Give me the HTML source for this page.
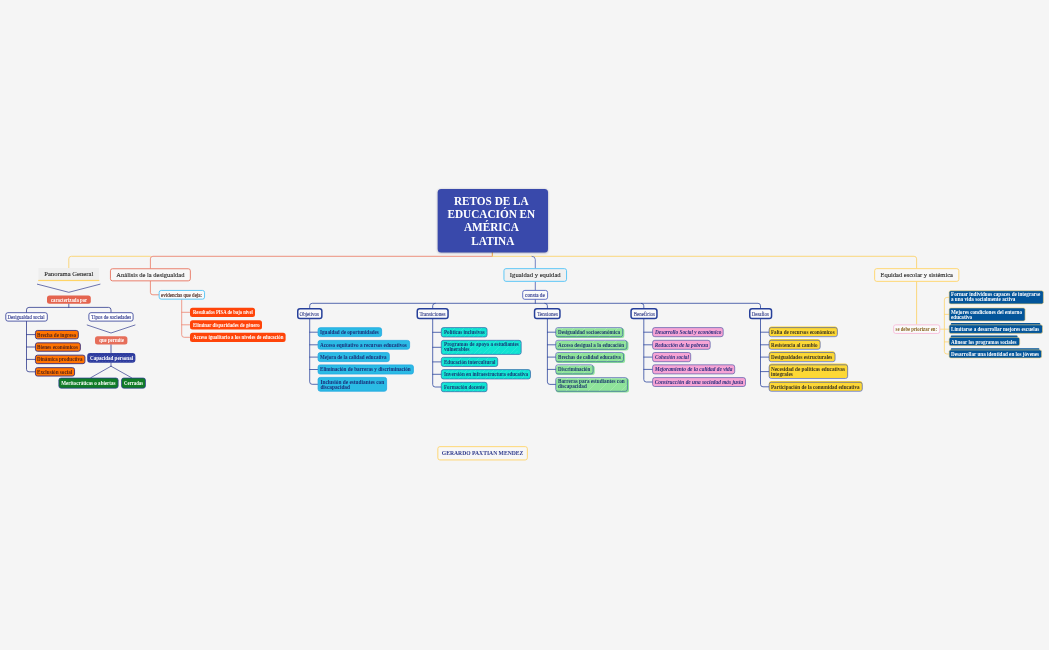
<!DOCTYPE html>
<html lang="es"><head><meta charset="utf-8"><title>Retos de la educación en América Latina</title>
<style>
html,body{margin:0;padding:0;}
body{width:1049px;height:650px;background:#f5f5f5;position:relative;overflow:hidden;font-family:"Liberation Serif",serif;}
.n{position:absolute;box-sizing:border-box;white-space:nowrap;display:flex;flex-direction:column;justify-content:center;}
.n span{display:block;align-self:flex-start;}
.n.c span{align-self:center;}
svg{position:absolute;left:0;top:0;}
</style></head><body>
<svg width="1049" height="650" viewBox="0 0 1049 650">
<defs><filter id="sh" x="-10%" y="-10%" width="120%" height="130%"><feGaussianBlur stdDeviation="0.9"/></filter><pattern id="h1" width="9" height="9" patternUnits="userSpaceOnUse"><path d="M-1 10 L10 -1 M-1 5.5 L5.5 -1" stroke="#fff" stroke-opacity=".22" stroke-width=".5"/></pattern><pattern id="h2" width="11" height="11" patternUnits="userSpaceOnUse"><path d="M-1 12 L12 -1" stroke="#fff" stroke-opacity=".3" stroke-width=".5"/></pattern><pattern id="h3" width="3" height="3" patternUnits="userSpaceOnUse"><path d="M0 2.2 L1.1 1.1 M1.8 3 L3 1.8" stroke="#fff" stroke-opacity=".28" stroke-width=".45"/></pattern></defs>
<path d="M492.3 252 V256.3" stroke="#e6a23c" stroke-width="1" fill="none" stroke-linecap="round" stroke-linejoin="round" />
<path d="M492.3 256.3 H152.9 Q150.4 256.3 150.4 258.8 V268.3" stroke="#ec8672" stroke-width="0.9" fill="none" stroke-linecap="round" stroke-linejoin="round" />
<path d="M150.4 256.3 H71.3 Q68.8 256.3 68.8 258.8 V268" stroke="#fcd470" stroke-width="0.9" fill="none" stroke-linecap="round" stroke-linejoin="round" />
<path d="M492.3 256.3 H914.1 Q916.6 256.3 916.6 258.8 V268.2" stroke="#fcd470" stroke-width="0.9" fill="none" stroke-linecap="round" stroke-linejoin="round" />
<path d="M532 256.3 Q535.3 256.3 535.3 259.5 V268.2" stroke="#5467b6" stroke-width="0.8" fill="none" stroke-linecap="round" stroke-linejoin="round" />
<path d="M535.3 281.8 V290" stroke="#4a5cb0" stroke-width="0.8" fill="none" stroke-linecap="round" stroke-linejoin="round" />
<path d="M535.3 299.7 V303.3" stroke="#2c449c" stroke-width="0.8" fill="none" stroke-linecap="round" stroke-linejoin="round" />
<path d="M37.4 284.2 L68.8 292.3 L100 284.2" stroke="#303b8e" stroke-width="0.7" fill="none" stroke-linecap="round" stroke-linejoin="round" />
<path d="M68.8 303.8 V307.4" stroke="#303b8e" stroke-width="0.8" fill="none" stroke-linecap="round" stroke-linejoin="round" />
<path d="M26.5 312.3 V309.9 Q26.5 307.4 29 307.4 H108.5 Q111 307.4 111 309.9 V312.3" stroke="#303b8e" stroke-width="0.8" fill="none" stroke-linecap="round" stroke-linejoin="round" />
<path d="M87.2 325 L111 333 L135 325" stroke="#303b8e" stroke-width="0.7" fill="none" stroke-linecap="round" stroke-linejoin="round" />
<path d="M111 344.6 V353" stroke="#303b8e" stroke-width="0.8" fill="none" stroke-linecap="round" stroke-linejoin="round" />
<path d="M111 362.8 V366.2 M111 366.2 L90.8 377.7 M111 366.2 L131.5 377.7" stroke="#303b8e" stroke-width="0.7" fill="none" stroke-linecap="round" stroke-linejoin="round" />
<path d="M26.5 321.5 V369.3 Q26.5 371.8 29 371.8 H35" stroke="#303b8e" stroke-width="0.8" fill="none" stroke-linecap="round" stroke-linejoin="round" />
<path d="M26.5 334.6 H35" stroke="#303b8e" stroke-width="0.8" fill="none" stroke-linecap="round" stroke-linejoin="round" />
<path d="M26.5 347 H35" stroke="#303b8e" stroke-width="0.8" fill="none" stroke-linecap="round" stroke-linejoin="round" />
<path d="M26.5 359.4 H35" stroke="#303b8e" stroke-width="0.8" fill="none" stroke-linecap="round" stroke-linejoin="round" />
<path d="M150.4 281.3 V292.3 Q150.4 294.8 152.9 294.8 H158.7" stroke="#ec8672" stroke-width="0.9" fill="none" stroke-linecap="round" stroke-linejoin="round" />
<path d="M181.7 299.6 V334.8 Q181.7 337.3 184.2 337.3 H190" stroke="#ec8672" stroke-width="0.8" fill="none" stroke-linecap="round" stroke-linejoin="round" />
<path d="M181.7 312.3 H190" stroke="#ec8672" stroke-width="0.8" fill="none" stroke-linecap="round" stroke-linejoin="round" />
<path d="M181.7 324.8 H190" stroke="#ec8672" stroke-width="0.8" fill="none" stroke-linecap="round" stroke-linejoin="round" />
<path d="M309.7 308 V305.8 Q309.7 303.3 312.2 303.3 H758 Q760.5 303.3 760.5 305.8 V308" stroke="#2f479e" stroke-width="0.8" fill="none" stroke-linecap="round" stroke-linejoin="round" />
<path d="M544.9 303.3 Q547.4 303.3 547.4 305.8 V308" stroke="#2f479e" stroke-width="0.8" fill="none" stroke-linecap="round" stroke-linejoin="round" />
<path d="M641.3 303.3 Q643.8 303.3 643.8 305.8 V308" stroke="#2f479e" stroke-width="0.8" fill="none" stroke-linecap="round" stroke-linejoin="round" />
<path d="M435.2 303.3 Q432.7 303.3 432.7 305.8 V308" stroke="#2f479e" stroke-width="0.8" fill="none" stroke-linecap="round" stroke-linejoin="round" />
<path d="M309.7 319.2 V381.8 Q309.7 384.3 312.2 384.3 H317.7" stroke="#2f479e" stroke-width="0.8" fill="none" stroke-linecap="round" stroke-linejoin="round" />
<path d="M309.7 332.2 H317.7" stroke="#2f479e" stroke-width="0.8" fill="none" stroke-linecap="round" stroke-linejoin="round" />
<path d="M309.7 344.8 H317.7" stroke="#2f479e" stroke-width="0.8" fill="none" stroke-linecap="round" stroke-linejoin="round" />
<path d="M309.7 357.1 H317.7" stroke="#2f479e" stroke-width="0.8" fill="none" stroke-linecap="round" stroke-linejoin="round" />
<path d="M309.7 369.5 H317.7" stroke="#2f479e" stroke-width="0.8" fill="none" stroke-linecap="round" stroke-linejoin="round" />
<path d="M432.7 319.2 V384.5 Q432.7 387 435.2 387 H441" stroke="#2f479e" stroke-width="0.8" fill="none" stroke-linecap="round" stroke-linejoin="round" />
<path d="M432.7 332.3 H441" stroke="#2f479e" stroke-width="0.8" fill="none" stroke-linecap="round" stroke-linejoin="round" />
<path d="M432.7 347.3 H441" stroke="#2f479e" stroke-width="0.8" fill="none" stroke-linecap="round" stroke-linejoin="round" />
<path d="M432.7 361.9 H441" stroke="#2f479e" stroke-width="0.8" fill="none" stroke-linecap="round" stroke-linejoin="round" />
<path d="M432.7 374.3 H441" stroke="#2f479e" stroke-width="0.8" fill="none" stroke-linecap="round" stroke-linejoin="round" />
<path d="M547.4 319.2 V381.9 Q547.4 384.4 549.9 384.4 H555.4" stroke="#2f479e" stroke-width="0.8" fill="none" stroke-linecap="round" stroke-linejoin="round" />
<path d="M547.4 332.2 H555.4" stroke="#2f479e" stroke-width="0.8" fill="none" stroke-linecap="round" stroke-linejoin="round" />
<path d="M547.4 344.8 H555.4" stroke="#2f479e" stroke-width="0.8" fill="none" stroke-linecap="round" stroke-linejoin="round" />
<path d="M547.4 357.1 H555.4" stroke="#2f479e" stroke-width="0.8" fill="none" stroke-linecap="round" stroke-linejoin="round" />
<path d="M547.4 369.4 H555.4" stroke="#2f479e" stroke-width="0.8" fill="none" stroke-linecap="round" stroke-linejoin="round" />
<path d="M643.8 319.2 V379.5 Q643.8 382 646.3 382 H652.3" stroke="#2f479e" stroke-width="0.8" fill="none" stroke-linecap="round" stroke-linejoin="round" />
<path d="M643.8 332.2 H652.3" stroke="#2f479e" stroke-width="0.8" fill="none" stroke-linecap="round" stroke-linejoin="round" />
<path d="M643.8 344.8 H652.3" stroke="#2f479e" stroke-width="0.8" fill="none" stroke-linecap="round" stroke-linejoin="round" />
<path d="M643.8 357.1 H652.3" stroke="#2f479e" stroke-width="0.8" fill="none" stroke-linecap="round" stroke-linejoin="round" />
<path d="M643.8 369.4 H652.3" stroke="#2f479e" stroke-width="0.8" fill="none" stroke-linecap="round" stroke-linejoin="round" />
<path d="M760.5 319.2 V384.3 Q760.5 386.8 763.0 386.8 H768.8" stroke="#2f479e" stroke-width="0.8" fill="none" stroke-linecap="round" stroke-linejoin="round" />
<path d="M760.5 332.2 H768.8" stroke="#2f479e" stroke-width="0.8" fill="none" stroke-linecap="round" stroke-linejoin="round" />
<path d="M760.5 344.8 H768.8" stroke="#2f479e" stroke-width="0.8" fill="none" stroke-linecap="round" stroke-linejoin="round" />
<path d="M760.5 357.1 H768.8" stroke="#2f479e" stroke-width="0.8" fill="none" stroke-linecap="round" stroke-linejoin="round" />
<path d="M760.5 371.6 H768.8" stroke="#2f479e" stroke-width="0.8" fill="none" stroke-linecap="round" stroke-linejoin="round" />
<path d="M916.6 281.8 V324.4" stroke="#fcd470" stroke-width="0.9" fill="none" stroke-linecap="round" stroke-linejoin="round" />
<path d="M940.2 329.2 H949" stroke="#fcd470" stroke-width="0.8" fill="none" stroke-linecap="round" stroke-linejoin="round" />
<path d="M949 297.4 H946.9 Q944.4 297.4 944.4 299.9 V351.5 Q944.4 354 946.9 354 H949" stroke="#fcd470" stroke-width="0.8" fill="none" stroke-linecap="round" stroke-linejoin="round" />
<path d="M944.4 314.4 H949" stroke="#fcd470" stroke-width="0.8" fill="none" stroke-linecap="round" stroke-linejoin="round" />
<path d="M944.4 341.9 H949" stroke="#fcd470" stroke-width="0.8" fill="none" stroke-linecap="round" stroke-linejoin="round" />
<rect x="437.70" y="189.50" width="110.30" height="63.60" rx="3.5" fill="rgba(20,20,70,.35)" filter="url(#sh)"/><rect x="437.70" y="189.00" width="110.30" height="63.60" rx="3.50" fill="#3949ab"/>
<rect x="38.50" y="268.00" width="60.50" height="12.80" rx="0.00" fill="#eeeeee"/><rect x="38.20" y="279.90" width="61.10" height="1.2" fill="#ffd466"/>
<rect x="110.45" y="268.75" width="79.90" height="12.10" rx="2.05" fill="#f7f7f7" stroke="#e8735e" stroke-width="0.9"/>
<rect x="503.95" y="268.65" width="62.60" height="12.70" rx="2.05" fill="#f0f0f0" stroke="#4fc3f7" stroke-width="0.9"/>
<rect x="874.65" y="268.65" width="84.20" height="12.70" rx="2.05" fill="#f7f7f7" stroke="#ffd466" stroke-width="0.9"/>
<rect x="47.00" y="295.40" width="43.80" height="8.40" rx="2.50" fill="#e4644f"/>
<rect x="5.80" y="312.70" width="41.50" height="8.40" rx="2.10" fill="#fff" stroke="#283593" stroke-width="0.8"/>
<rect x="88.90" y="312.70" width="44.20" height="8.40" rx="2.10" fill="#fff" stroke="#283593" stroke-width="0.8"/>
<rect x="95.00" y="336.20" width="32.40" height="8.40" rx="2.50" fill="#e66e5a"/>
<rect x="87.20" y="353.00" width="48.20" height="9.80" rx="3.00" fill="#2d3b9e"/><rect x="87.80" y="353.60" width="47.00" height="8.60" rx="2.40" fill="url(#h3)"/>
<rect x="58.85" y="378.05" width="59.30" height="10.10" rx="2.15" fill="#107c27" stroke="#283593" stroke-width="0.7"/>
<rect x="121.55" y="378.05" width="23.90" height="10.10" rx="2.15" fill="#107c27" stroke="#283593" stroke-width="0.7"/>
<rect x="35.45" y="330.45" width="42.90" height="8.40" rx="2.05" fill="#ff7300" stroke="#3a2f7c" stroke-width="0.9"/>
<rect x="35.45" y="342.85" width="44.90" height="8.40" rx="2.05" fill="#ff7300" stroke="#3a2f7c" stroke-width="0.9"/>
<rect x="35.45" y="355.15" width="49.50" height="8.50" rx="2.05" fill="#ff7300" stroke="#3a2f7c" stroke-width="0.9"/>
<rect x="35.45" y="367.65" width="39.10" height="8.40" rx="2.05" fill="#ff7300" stroke="#3a2f7c" stroke-width="0.9"/>
<rect x="159.15" y="290.45" width="45.40" height="8.70" rx="2.05" fill="#fafafa" stroke="#4fc3f7" stroke-width="0.9"/>
<rect x="190.00" y="307.70" width="65.00" height="9.40" rx="2.50" fill="#ff4409"/>
<rect x="190.00" y="320.30" width="72.00" height="9.20" rx="2.50" fill="#ff4409"/>
<rect x="190.00" y="332.70" width="95.60" height="9.30" rx="2.50" fill="#ff4409"/>
<rect x="522.70" y="290.40" width="24.90" height="8.90" rx="2.10" fill="#fafafa" stroke="#3f51b5" stroke-width="0.8"/>
<rect x="297.75" y="308.75" width="24.10" height="9.70" rx="2.25" fill="#fafafa" stroke="#27409a" stroke-width="1.5"/>
<rect x="417.25" y="308.75" width="30.80" height="9.70" rx="2.25" fill="#fafafa" stroke="#27409a" stroke-width="1.5"/>
<rect x="534.55" y="308.75" width="25.40" height="9.70" rx="2.25" fill="#fafafa" stroke="#27409a" stroke-width="1.5"/>
<rect x="631.05" y="308.75" width="25.90" height="9.70" rx="2.25" fill="#fafafa" stroke="#27409a" stroke-width="1.5"/>
<rect x="749.75" y="308.75" width="21.80" height="9.70" rx="2.25" fill="#fafafa" stroke="#27409a" stroke-width="1.5"/>
<rect x="318.10" y="327.70" width="63.50" height="8.90" rx="2.10" fill="#2bbbe5" stroke="#1fa6e1" stroke-width="0.8"/>
<rect x="318.10" y="340.40" width="91.50" height="8.80" rx="2.10" fill="#2bbbe5" stroke="#1fa6e1" stroke-width="0.8"/>
<rect x="318.10" y="352.60" width="71.20" height="9.00" rx="2.10" fill="#2bbbe5" stroke="#1fa6e1" stroke-width="0.8"/>
<rect x="318.10" y="364.90" width="95.30" height="9.10" rx="2.10" fill="#2bbbe5" stroke="#1fa6e1" stroke-width="0.8"/>
<rect x="318.10" y="377.40" width="68.50" height="13.80" rx="2.10" fill="#2bbbe5" stroke="#1fa6e1" stroke-width="0.8"/>
<rect x="441.30" y="327.60" width="45.80" height="9.40" rx="2.20" fill="#10e3d2" stroke="#2b4a9e" stroke-width="0.6"/><rect x="441.60" y="327.90" width="45.20" height="8.80" rx="1.90" fill="url(#h1)"/>
<rect x="441.30" y="340.30" width="79.90" height="14.10" rx="2.20" fill="#10e3d2" stroke="#2b4a9e" stroke-width="0.6"/><rect x="441.60" y="340.60" width="79.30" height="13.50" rx="1.90" fill="url(#h1)"/>
<rect x="441.30" y="357.30" width="56.40" height="9.20" rx="2.20" fill="#10e3d2" stroke="#2b4a9e" stroke-width="0.6"/><rect x="441.60" y="357.60" width="55.80" height="8.60" rx="1.90" fill="url(#h1)"/>
<rect x="441.30" y="369.60" width="89.20" height="9.40" rx="2.20" fill="#10e3d2" stroke="#2b4a9e" stroke-width="0.6"/><rect x="441.60" y="369.90" width="88.60" height="8.80" rx="1.90" fill="url(#h1)"/>
<rect x="441.30" y="382.30" width="45.80" height="9.40" rx="2.20" fill="#10e3d2" stroke="#2b4a9e" stroke-width="0.6"/><rect x="441.60" y="382.60" width="45.20" height="8.80" rx="1.90" fill="url(#h1)"/>
<rect x="556.00" y="328.20" width="68.30" height="9.70" rx="2.5" fill="#8fe39a"/><rect x="555.70" y="327.60" width="67.00" height="9.10" rx="2.20" fill="none" stroke="#2b4a9e" stroke-width="0.6"/><rect x="556.00" y="327.90" width="66.40" height="8.50" rx="1.90" fill="url(#h2)"/>
<rect x="556.00" y="340.90" width="72.50" height="9.60" rx="2.5" fill="#8fe39a"/><rect x="555.70" y="340.30" width="71.20" height="9.00" rx="2.20" fill="none" stroke="#2b4a9e" stroke-width="0.6"/><rect x="556.00" y="340.60" width="70.60" height="8.40" rx="1.90" fill="url(#h2)"/>
<rect x="556.00" y="353.10" width="69.10" height="9.80" rx="2.5" fill="#8fe39a"/><rect x="555.70" y="352.50" width="67.80" height="9.20" rx="2.20" fill="none" stroke="#2b4a9e" stroke-width="0.6"/><rect x="556.00" y="352.80" width="67.20" height="8.60" rx="1.90" fill="url(#h2)"/>
<rect x="556.00" y="365.40" width="38.70" height="9.70" rx="2.5" fill="#8fe39a"/><rect x="555.70" y="364.80" width="37.40" height="9.10" rx="2.20" fill="none" stroke="#2b4a9e" stroke-width="0.6"/><rect x="556.00" y="365.10" width="36.80" height="8.50" rx="1.90" fill="url(#h2)"/>
<rect x="556.00" y="378.20" width="73.00" height="14.30" rx="2.5" fill="#8fe39a"/><rect x="555.70" y="377.60" width="71.70" height="13.70" rx="2.20" fill="none" stroke="#2b4a9e" stroke-width="0.6"/><rect x="556.00" y="377.90" width="71.10" height="13.10" rx="1.90" fill="url(#h2)"/>
<rect x="652.60" y="327.60" width="70.60" height="9.10" rx="2.20" fill="#f6a4d5" stroke="#3a4aa0" stroke-width="0.6"/>
<rect x="652.60" y="340.30" width="57.60" height="9.00" rx="2.20" fill="#f6a4d5" stroke="#3a4aa0" stroke-width="0.6"/>
<rect x="652.60" y="352.50" width="38.10" height="9.20" rx="2.20" fill="#f6a4d5" stroke="#3a4aa0" stroke-width="0.6"/>
<rect x="652.60" y="364.80" width="82.10" height="9.10" rx="2.20" fill="#f6a4d5" stroke="#3a4aa0" stroke-width="0.6"/>
<rect x="652.60" y="377.60" width="92.90" height="8.90" rx="2.20" fill="#f6a4d5" stroke="#3a4aa0" stroke-width="0.6"/>
<rect x="769.00" y="326.40" width="68.40" height="9.90" rx="2.5" fill="#fdd835"/><rect x="769.12" y="327.62" width="68.25" height="9.05" rx="2.17" fill="none" stroke="#3f55b0" stroke-width="0.65"/>
<rect x="769.00" y="339.10" width="51.20" height="9.80" rx="2.5" fill="#fdd835"/><rect x="769.12" y="340.32" width="51.05" height="8.95" rx="2.17" fill="none" stroke="#3f55b0" stroke-width="0.65"/>
<rect x="769.00" y="351.30" width="66.10" height="10.00" rx="2.5" fill="#fdd835"/><rect x="769.12" y="352.52" width="65.95" height="9.15" rx="2.17" fill="none" stroke="#3f55b0" stroke-width="0.65"/>
<rect x="769.00" y="363.60" width="78.70" height="14.50" rx="2.5" fill="#fdd835"/><rect x="769.12" y="364.82" width="78.55" height="13.65" rx="2.17" fill="none" stroke="#3f55b0" stroke-width="0.65"/>
<rect x="769.00" y="381.10" width="93.30" height="9.80" rx="2.5" fill="#fdd835"/><rect x="769.12" y="382.32" width="93.15" height="8.95" rx="2.17" fill="none" stroke="#3f55b0" stroke-width="0.65"/>
<rect x="893.65" y="324.85" width="46.10" height="8.60" rx="2.05" fill="#fafafa" stroke="#f8bbd9" stroke-width="0.9"/>
<rect x="949.10" y="290.70" width="94.30" height="13.20" rx="1.70" fill="#03559a" stroke="#f2d27a" stroke-width="0.6"/>
<rect x="949.10" y="307.90" width="76.00" height="13.10" rx="1.70" fill="#03559a" stroke="#f2d27a" stroke-width="0.6"/>
<rect x="950.80" y="323.10" width="89.50" height="4.40" rx="0.8" fill="#03559a"/><rect x="949.10" y="324.80" width="93.40" height="8.60" rx="1.70" fill="#03559a" stroke="#f2d27a" stroke-width="0.6"/>
<rect x="950.80" y="335.60" width="66.70" height="4.50" rx="0.8" fill="#03559a"/><rect x="949.10" y="337.40" width="70.60" height="8.30" rx="1.70" fill="#03559a" stroke="#f2d27a" stroke-width="0.6"/>
<rect x="950.80" y="348.20" width="88.60" height="4.40" rx="0.8" fill="#03559a"/><rect x="949.10" y="349.90" width="92.50" height="8.10" rx="1.70" fill="#03559a" stroke="#f2d27a" stroke-width="0.6"/>
<rect x="437.85" y="446.65" width="89.50" height="13.30" rx="2.05" fill="#f7f7f7" stroke="#ffd466" stroke-width="0.9"/>
</svg>
<div class="n c title-node" id="n0" style="left:437.70px;top:189.00px;width:110.30px;height:63.60px;color:#fff;font-weight:700;font-size:11.260px;line-height:13.4px;text-align:center;"><span style="position:relative;left:-1.5px;top:0.6px;transform:scaleY(1.07);">RETOS DE LA </span><span style="position:relative;left:-1.5px;top:0.6px;transform:scaleY(1.07);">EDUCACIÓN EN </span><span style="position:relative;left:-1.4px;top:0.6px;transform:scaleY(1.07);">AMÉRICA </span><span style="position:relative;left:0px;top:0.6px;transform:scaleY(1.07);">LATINA</span></div>
<div class="n c" id="n1" style="left:38.50px;top:268.00px;width:60.50px;height:12.80px;color:#2b2b2b;font-weight:400;-webkit-text-stroke:0.12px #2b2b2b;font-size:6.623px;line-height:12.800000000000011px;text-align:center;"><span>Panorama General</span></div>
<div class="n c" id="n2" style="left:110.00px;top:268.30px;width:80.80px;height:13.00px;color:#2b2b2b;font-weight:400;-webkit-text-stroke:0.12px #2b2b2b;font-size:6.514px;line-height:13.0px;text-align:center;"><span>Análisis de la desigualdad</span></div>
<div class="n c" id="n3" style="left:503.50px;top:268.20px;width:63.50px;height:13.60px;color:#2b2b2b;font-weight:400;-webkit-text-stroke:0.12px #2b2b2b;font-size:6.641px;line-height:13.600000000000023px;text-align:center;"><span>Igualdad y equidad</span></div>
<div class="n c" id="n4" style="left:874.20px;top:268.20px;width:85.10px;height:13.60px;color:#2b2b2b;font-weight:400;-webkit-text-stroke:0.12px #2b2b2b;font-size:6.528px;line-height:13.600000000000023px;text-align:center;"><span>Equidad escolar y sistémica</span></div>
<div class="n c" id="n5" style="left:47.00px;top:295.40px;width:43.80px;height:8.40px;color:#fff;font-weight:700;font-size:5.300px;line-height:8.400000000000034px;text-align:center;"><span style="transform:scale(0.9009,1);transform-origin:50% 50%;position:relative;top:1px;">caracterizada por</span></div>
<div class="n c" id="n6" style="left:5.40px;top:312.30px;width:42.30px;height:9.20px;color:#27318a;font-weight:400;-webkit-text-stroke:0.1px #27318a;font-size:5.300px;line-height:9.199999999999989px;text-align:center;"><span style="transform:scale(0.9233,1);transform-origin:50% 50%;position:relative;top:1px;">Desigualdad social</span></div>
<div class="n c" id="n7" style="left:88.50px;top:312.30px;width:45.00px;height:9.20px;color:#27318a;font-weight:400;-webkit-text-stroke:0.1px #27318a;font-size:5.300px;line-height:9.199999999999989px;text-align:center;"><span style="transform:scale(0.9365,1);transform-origin:50% 50%;position:relative;top:1px;">Tipos de sociedades</span></div>
<div class="n c" id="n8" style="left:95.00px;top:336.20px;width:32.40px;height:8.40px;color:#fff;font-weight:700;font-size:5.300px;line-height:8.400000000000034px;text-align:center;"><span style="transform:scale(0.9105,1);transform-origin:50% 50%;">que permite</span></div>
<div class="n c" id="n9" style="left:87.20px;top:353.00px;width:48.20px;height:9.80px;color:#fff;font-weight:700;font-size:5.300px;line-height:9.800000000000011px;text-align:center;"><span style="transform:scale(0.9512,1);transform-origin:50% 50%;position:relative;top:1px;">Capacidad personal</span></div>
<div class="n c" id="n10" style="left:58.50px;top:377.70px;width:60.00px;height:10.80px;color:#fff;font-weight:700;font-size:5.300px;line-height:10.800000000000011px;text-align:center;"><span style="transform:scale(0.9576,1);transform-origin:50% 50%;">Meritocráticas o abiertas</span></div>
<div class="n c" id="n11" style="left:121.20px;top:377.70px;width:24.60px;height:10.80px;color:#fff;font-weight:700;font-size:5.300px;line-height:10.800000000000011px;text-align:center;"><span style="transform:scale(0.8962,1);transform-origin:50% 50%;">Cerradas</span></div>
<div class="n" id="n12" style="left:35.00px;top:330.00px;width:43.80px;height:9.30px;color:#5a2416;font-weight:700;font-size:5.300px;line-height:9.300000000000011px;text-align:left;padding-left:2.4px;"><span style="transform:scale(0.9645,1);transform-origin:0 50%;position:relative;top:1px;">Brecha de ingreso</span></div>
<div class="n" id="n13" style="left:35.00px;top:342.40px;width:45.80px;height:9.30px;color:#5a2416;font-weight:700;font-size:5.300px;line-height:9.300000000000011px;text-align:left;padding-left:2.4px;"><span style="transform:scale(0.9773,1);transform-origin:0 50%;position:relative;top:1px;">Bienes económicos</span></div>
<div class="n" id="n14" style="left:35.00px;top:354.70px;width:50.40px;height:9.40px;color:#5a2416;font-weight:700;font-size:5.300px;line-height:9.400000000000034px;text-align:left;padding-left:2.4px;"><span style="transform:scale(0.9548,1);transform-origin:0 50%;">Dinámica productiva</span></div>
<div class="n" id="n15" style="left:35.00px;top:367.20px;width:40.00px;height:9.30px;color:#5a2416;font-weight:700;font-size:5.300px;line-height:9.300000000000011px;text-align:left;padding-left:2.4px;"><span style="transform:scale(0.9756,1);transform-origin:0 50%;position:relative;top:1px;">Exclusión social</span></div>
<div class="n c" id="n16" style="left:158.70px;top:290.00px;width:46.30px;height:9.60px;color:#5a3a33;font-weight:400;-webkit-text-stroke:0.2px #5a3a33;font-size:5.300px;line-height:9.600000000000023px;text-align:center;"><span style="transform:scale(0.9518,1);transform-origin:50% 50%;position:relative;top:1px;">evidencias que deja:</span></div>
<div class="n" id="n17" style="left:190.00px;top:307.70px;width:65.00px;height:9.40px;color:#fff;font-weight:700;font-size:5.300px;line-height:9.400000000000034px;text-align:left;padding-left:2.6px;"><span style="transform:scale(0.8790,1);transform-origin:0 50%;">Resultados PISA de bajo nivel</span></div>
<div class="n" id="n18" style="left:190.00px;top:320.30px;width:72.00px;height:9.20px;color:#fff;font-weight:700;font-size:5.300px;line-height:9.199999999999989px;text-align:left;padding-left:2.6px;"><span style="transform:scale(0.9079,1);transform-origin:0 50%;position:relative;top:1px;">Eliminar disparidades de género</span></div>
<div class="n" id="n19" style="left:190.00px;top:332.70px;width:95.60px;height:9.30px;color:#fff;font-weight:700;font-size:5.300px;line-height:9.300000000000011px;text-align:left;padding-left:2.6px;"><span style="transform:scale(0.9111,1);transform-origin:0 50%;">Acceso igualitario a los niveles de educación</span></div>
<div class="n c" id="n20" style="left:522.30px;top:290.00px;width:25.70px;height:9.70px;color:#27318a;font-weight:400;-webkit-text-stroke:0.1px #27318a;font-size:5.300px;line-height:9.699999999999989px;text-align:center;"><span style="transform:scale(0.9912,1);transform-origin:50% 50%;position:relative;top:1px;">consta de</span></div>
<div class="n c" id="n21" style="left:297.00px;top:308.00px;width:25.60px;height:11.20px;color:#2c3784;font-weight:400;-webkit-text-stroke:0.08px #2c3784;font-size:5.300px;line-height:11.199999999999989px;text-align:center;"><span style="transform:scale(0.9412,1);transform-origin:50% 50%;position:relative;top:1px;">Objetivos</span></div>
<div class="n c" id="n22" style="left:416.50px;top:308.00px;width:32.30px;height:11.20px;color:#2c3784;font-weight:400;-webkit-text-stroke:0.08px #2c3784;font-size:5.300px;line-height:11.199999999999989px;text-align:center;"><span style="transform:scale(0.9704,1);transform-origin:50% 50%;position:relative;top:1px;">Transiciones</span></div>
<div class="n c" id="n23" style="left:533.80px;top:308.00px;width:26.90px;height:11.20px;color:#2c3784;font-weight:400;-webkit-text-stroke:0.08px #2c3784;font-size:5.300px;line-height:11.199999999999989px;text-align:center;"><span style="transform:scale(0.9799,1);transform-origin:50% 50%;position:relative;top:1px;">Tensiones</span></div>
<div class="n c" id="n24" style="left:630.30px;top:308.00px;width:27.40px;height:11.20px;color:#2c3784;font-weight:400;-webkit-text-stroke:0.08px #2c3784;font-size:5.300px;line-height:11.199999999999989px;text-align:center;"><span style="transform:scale(0.9353,1);transform-origin:50% 50%;position:relative;top:1px;">Beneficios</span></div>
<div class="n c" id="n25" style="left:749.00px;top:308.00px;width:23.30px;height:11.20px;color:#2c3784;font-weight:400;-webkit-text-stroke:0.08px #2c3784;font-size:5.300px;line-height:11.199999999999989px;text-align:center;"><span style="transform:scale(0.9218,1);transform-origin:50% 50%;position:relative;top:1px;">Desafíos</span></div>
<div class="n" id="n26" style="left:317.70px;top:327.30px;width:64.30px;height:9.70px;color:#1a2f7a;font-weight:700;font-size:5.300px;line-height:9.699999999999989px;text-align:left;padding-left:2.7px;"><span style="transform:scale(0.9660,1);transform-origin:0 50%;position:relative;top:1px;">Igualdad de oportunidades</span></div>
<div class="n" id="n27" style="left:317.70px;top:340.00px;width:92.30px;height:9.60px;color:#1a2f7a;font-weight:700;font-size:5.300px;line-height:9.600000000000023px;text-align:left;padding-left:2.7px;"><span style="transform:scale(0.9752,1);transform-origin:0 50%;position:relative;top:1px;">Acceso equitativo a recursos educativos</span></div>
<div class="n" id="n28" style="left:317.70px;top:352.20px;width:72.00px;height:9.80px;color:#1a2f7a;font-weight:700;font-size:5.300px;line-height:9.800000000000011px;text-align:left;padding-left:2.7px;"><span style="transform:scale(0.9545,1);transform-origin:0 50%;position:relative;top:1px;">Mejora de la calidad educativa</span></div>
<div class="n" id="n29" style="left:317.70px;top:364.50px;width:96.10px;height:9.90px;color:#1a2f7a;font-weight:700;font-size:5.300px;line-height:9.899999999999977px;text-align:left;padding-left:2.7px;"><span style="transform:scale(0.9666,1);transform-origin:0 50%;">Eliminación de barreras y discriminación</span></div>
<div class="n" id="n30" style="left:317.70px;top:377.00px;width:69.30px;height:14.60px;color:#1a2f7a;font-weight:700;font-size:5.336px;line-height:5px;text-align:left;padding-left:2.7px;"><span style="position:relative;top:1px;">Inclusión de estudiantes con </span><span style="position:relative;top:1px;">discapacidad</span></div>
<div class="n" id="n31" style="left:441.00px;top:327.30px;width:46.40px;height:10.00px;color:#173a78;font-weight:700;font-size:5.300px;line-height:10.0px;text-align:left;padding-left:2.8px;"><span style="transform:scale(0.9587,1);transform-origin:0 50%;">Políticas inclusivas</span></div>
<div class="n" id="n32" style="left:441.00px;top:340.00px;width:80.50px;height:14.70px;color:#173a78;font-weight:700;font-size:5.300px;line-height:5px;text-align:left;padding-left:2.8px;"><span style="transform:scale(0.9721,1);transform-origin:0 50%;">Programas de apoyo a estudiantes </span><span style="transform:scale(0.9721,1);transform-origin:0 50%;">vulnerables</span></div>
<div class="n" id="n33" style="left:441.00px;top:357.00px;width:57.00px;height:9.80px;color:#173a78;font-weight:700;font-size:5.300px;line-height:9.800000000000011px;text-align:left;padding-left:2.8px;"><span style="transform:scale(0.9530,1);transform-origin:0 50%;position:relative;top:1px;">Educación intercultural</span></div>
<div class="n" id="n34" style="left:441.00px;top:369.30px;width:89.80px;height:10.00px;color:#173a78;font-weight:700;font-size:5.300px;line-height:10.0px;text-align:left;padding-left:2.8px;"><span style="transform:scale(0.9645,1);transform-origin:0 50%;">Inversión en infraestructura educativa</span></div>
<div class="n" id="n35" style="left:441.00px;top:382.00px;width:46.40px;height:10.00px;color:#173a78;font-weight:700;font-size:5.300px;line-height:10px;text-align:left;padding-left:2.8px;"><span style="transform:scale(0.9395,1);transform-origin:0 50%;">Formación docente</span></div>
<div class="n" id="n36" style="left:555.40px;top:327.30px;width:67.60px;height:9.70px;color:#1d3a6e;font-weight:700;font-size:5.300px;line-height:9.699999999999989px;text-align:left;padding-left:2.8px;"><span style="transform:scale(0.9637,1);transform-origin:0 50%;position:relative;top:1px;">Desigualdad socioeconómica</span></div>
<div class="n" id="n37" style="left:555.40px;top:340.00px;width:71.80px;height:9.60px;color:#1d3a6e;font-weight:700;font-size:5.300px;line-height:9.600000000000023px;text-align:left;padding-left:2.8px;"><span style="transform:scale(0.9608,1);transform-origin:0 50%;position:relative;top:1px;">Acceso desigual a la educación</span></div>
<div class="n" id="n38" style="left:555.40px;top:352.20px;width:68.40px;height:9.80px;color:#1d3a6e;font-weight:700;font-size:5.300px;line-height:9.800000000000011px;text-align:left;padding-left:2.8px;"><span style="transform:scale(0.9557,1);transform-origin:0 50%;position:relative;top:1px;">Brechas de calidad educativa</span></div>
<div class="n" id="n39" style="left:555.40px;top:364.50px;width:38.00px;height:9.70px;color:#1d3a6e;font-weight:700;font-size:5.300px;line-height:9.699999999999989px;text-align:left;padding-left:2.8px;"><span style="transform:scale(0.9405,1);transform-origin:0 50%;">Discriminación</span></div>
<div class="n" id="n40" style="left:555.40px;top:377.30px;width:72.30px;height:14.30px;color:#1d3a6e;font-weight:700;font-size:5.300px;line-height:5px;text-align:left;padding-left:2.8px;"><span style="transform:scale(0.9800,1);transform-origin:0 50%;">Barreras para estudiantes con </span><span style="transform:scale(0.9800,1);transform-origin:0 50%;">discapacidad</span></div>
<div class="n" id="n41" style="left:652.30px;top:327.30px;width:71.20px;height:9.70px;color:#2a2f7e;font-weight:700;font-style:italic;font-size:5.300px;line-height:9.699999999999989px;text-align:left;padding-left:2.4px;"><span style="transform:scale(0.9957,1);transform-origin:0 50%;position:relative;top:1px;">Desarrollo Social y económico</span></div>
<div class="n" id="n42" style="left:652.30px;top:340.00px;width:58.20px;height:9.60px;color:#2a2f7e;font-weight:700;font-style:italic;font-size:5.300px;line-height:9.600000000000023px;text-align:left;padding-left:2.4px;"><span style="position:relative;top:1px;">Reducción de la pobreza</span></div>
<div class="n" id="n43" style="left:652.30px;top:352.20px;width:38.70px;height:9.80px;color:#2a2f7e;font-weight:700;font-style:italic;font-size:5.300px;line-height:9.800000000000011px;text-align:left;padding-left:2.4px;"><span style="transform:scale(0.9796,1);transform-origin:0 50%;position:relative;top:1px;">Cohesión social</span></div>
<div class="n" id="n44" style="left:652.30px;top:364.50px;width:82.70px;height:9.70px;color:#2a2f7e;font-weight:700;font-style:italic;font-size:5.383px;line-height:9.699999999999989px;text-align:left;padding-left:2.4px;"><span>Mejoramiento de la calidad de vida</span></div>
<div class="n" id="n45" style="left:652.30px;top:377.30px;width:93.50px;height:9.50px;color:#2a2f7e;font-weight:700;font-style:italic;font-size:5.348px;line-height:9.5px;text-align:left;padding-left:2.4px;"><span style="position:relative;top:1px;">Construcción de una sociedad más justa</span></div>
<div class="n" id="n46" style="left:768.80px;top:327.30px;width:68.90px;height:9.70px;color:#3a3420;font-weight:700;font-size:5.300px;line-height:9.699999999999989px;text-align:left;padding-left:2.6px;"><span style="transform:scale(0.9652,1);transform-origin:0 50%;position:relative;top:1px;">Falta de recursos económicos</span></div>
<div class="n" id="n47" style="left:768.80px;top:340.00px;width:51.70px;height:9.60px;color:#3a3420;font-weight:700;font-size:5.300px;line-height:9.600000000000023px;text-align:left;padding-left:2.6px;"><span style="transform:scale(0.9572,1);transform-origin:0 50%;position:relative;top:1px;">Resistencia al cambio</span></div>
<div class="n" id="n48" style="left:768.80px;top:352.20px;width:66.60px;height:9.80px;color:#3a3420;font-weight:700;font-size:5.300px;line-height:9.800000000000011px;text-align:left;padding-left:2.6px;"><span style="transform:scale(0.9721,1);transform-origin:0 50%;position:relative;top:1px;">Desigualdades estructurales</span></div>
<div class="n" id="n49" style="left:768.80px;top:364.50px;width:79.20px;height:14.30px;color:#3a3420;font-weight:700;font-size:5.300px;line-height:5px;text-align:left;padding-left:2.6px;"><span style="transform:scale(0.9875,1);transform-origin:0 50%;">Necesidad de políticas educativas </span><span style="transform:scale(0.9875,1);transform-origin:0 50%;">integrales</span></div>
<div class="n" id="n50" style="left:768.80px;top:382.00px;width:93.80px;height:9.60px;color:#3a3420;font-weight:700;font-size:5.300px;line-height:9.600000000000023px;text-align:left;padding-left:2.6px;"><span style="transform:scale(0.9613,1);transform-origin:0 50%;position:relative;top:1px;">Participación de la comunidad educativa</span></div>
<div class="n c" id="n51" style="left:893.20px;top:324.40px;width:47.00px;height:9.50px;color:#8a6420;font-weight:700;font-size:5.300px;line-height:9.5px;text-align:center;"><span style="transform:scale(0.8891,1);transform-origin:50% 50%;position:relative;top:1px;">se debe priorizar en:</span></div>
<div class="n" id="n52" style="left:948.80px;top:290.40px;width:94.90px;height:13.80px;color:#fff;font-weight:700;font-size:5.300px;line-height:5px;text-align:left;padding-left:2.1px;"><span style="transform:scale(0.9711,1);transform-origin:0 50%;">Formar individuos capaces de integrarse </span><span style="transform:scale(0.9711,1);transform-origin:0 50%;">a una vida socialmente activa</span></div>
<div class="n" id="n53" style="left:948.80px;top:307.60px;width:76.60px;height:13.70px;color:#fff;font-weight:700;font-size:5.300px;line-height:5px;text-align:left;padding-left:2.1px;"><span style="transform:scale(0.9731,1);transform-origin:0 50%;position:relative;top:1px;">Mejores condiciones del entorno </span><span style="transform:scale(0.9731,1);transform-origin:0 50%;position:relative;top:1px;">educativo</span></div>
<div class="n" id="n54" style="left:948.80px;top:324.50px;width:94.00px;height:9.20px;color:#fff;font-weight:700;font-size:5.300px;line-height:9.199999999999989px;text-align:left;padding-left:2.1px;"><span style="transform:scale(0.9676,1);transform-origin:0 50%;">Limitarse a desarrollar mejores escuelas</span></div>
<div class="n" id="n55" style="left:948.80px;top:337.10px;width:71.20px;height:8.90px;color:#fff;font-weight:700;font-size:5.300px;line-height:8.899999999999977px;text-align:left;padding-left:2.1px;"><span style="transform:scale(0.9513,1);transform-origin:0 50%;position:relative;top:1px;">Alinear los programas sociales</span></div>
<div class="n" id="n56" style="left:948.80px;top:349.60px;width:93.10px;height:8.70px;color:#fff;font-weight:700;font-size:5.300px;line-height:8.699999999999989px;text-align:left;padding-left:2.1px;"><span style="transform:scale(0.9687,1);transform-origin:0 50%;">Desarrollar una identidad en los jóvenes</span></div>
<div class="n c" id="n57" style="left:437.40px;top:446.20px;width:90.40px;height:14.20px;color:#2e3a8c;font-weight:700;font-size:5.648px;line-height:14.199999999999989px;text-align:center;"><span style="transform:scale(1.0000,1.13);transform-origin:50% 50%;">GERARDO PAXTIAN MENDEZ</span></div>
</body></html>
